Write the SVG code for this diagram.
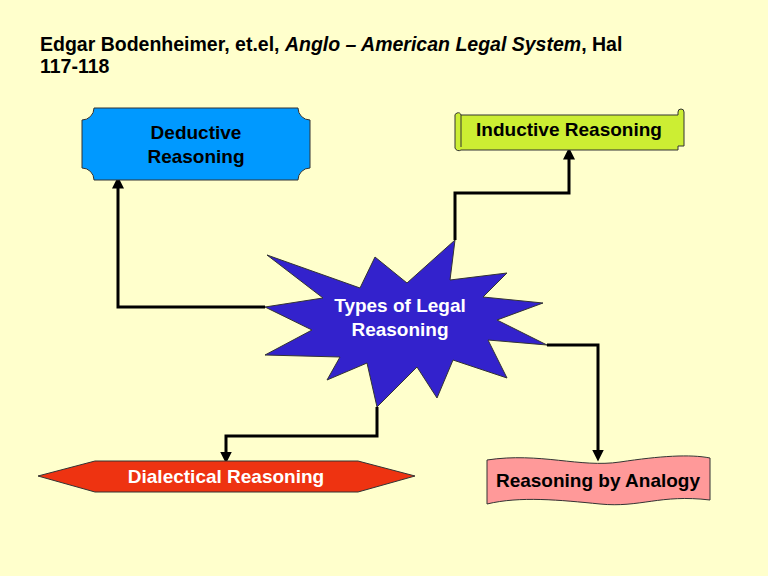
<svg xmlns="http://www.w3.org/2000/svg" width="768" height="576" viewBox="0 0 768 576">
<defs>
<style>
text{font-family:"Liberation Sans",Arial,sans-serif;font-weight:bold;font-size:19px}
.c{fill:none;stroke:#000;stroke-width:3;marker-end:url(#a)}
.s{stroke:#333;stroke-width:1}
</style>
<marker id="a" markerWidth="4" markerHeight="4" refX="2.5" refY="2" orient="auto" markerUnits="strokeWidth"><path d="M0,0L4,2L0,4Z" fill="#000"/></marker>
</defs>
<rect width="768" height="576" fill="#ffffcc"/>
<text x="40" y="51" style="font-size:19.5px">Edgar Bodenheimer, et.el, <tspan font-style="italic">Anglo – American Legal System</tspan>, Hal</text>
<text x="40" y="73" style="font-size:19.5px">117-118</text>
<g id="connectors">
<path class="c" d="M265,307H118V181"/>
<path class="c" d="M455,240V193H569V152"/>
<path class="c" d="M547,345H598V457"/>
<path class="c" d="M377,407V436H226V459"/>
</g>
<g id="deductive">
<path class="s" fill="#0099ff" d="M94,108H298A12,12 0 0 0 310,120V168A12,12 0 0 0 298,180H94A12,12 0 0 0 82,168V120A12,12 0 0 0 94,108Z"/>
<text x="196" y="139" text-anchor="middle">Deductive</text>
<text x="196" y="163" text-anchor="middle">Reasoning</text>
</g>
<g id="inductive">
<path class="s" fill="#ccee33" d="M461,115H678V112a3,3 0 0 1 6,0V146H678V150H461a4,4 0 0 1-6-2V117a3,3 0 0 1 6-2Z"/>
<path class="s" fill="none" d="M461,115V147"/>
<text x="569" y="136" text-anchor="middle">Inductive Reasoning</text>
</g>
<g id="center">
<path class="s" fill="#3322cc" d="M267,255L360,288L375,257L407,283L455,240L450,280L507,273L483,297L543,303L497,320L547,345L488,340L507,378L453,360L437,398L417,367L377,407L367,363L327,380L340,357L265,355L312,330L265,307L323,298Z"/>
<text x="400" y="312" fill="#fff" text-anchor="middle">Types of Legal</text>
<text x="400" y="336" fill="#fff" text-anchor="middle">Reasoning</text>
</g>
<g id="dialectical">
<path class="s" fill="#ee3311" d="M38,476L95,461H358L415,476L358,492H95Z"/>
<text x="226" y="483" fill="#fff" text-anchor="middle">Dialectical Reasoning</text>
</g>
<g id="analogy">
<path class="s" fill="#ff9999" d="M487,460C540,452 580,468 620,462C660,456 690,454 710,458V500C660,494 640,508 600,504C560,500 520,496 487,504Z"/>
<text x="598" y="487" text-anchor="middle">Reasoning by Analogy</text>
</g>
</svg>
